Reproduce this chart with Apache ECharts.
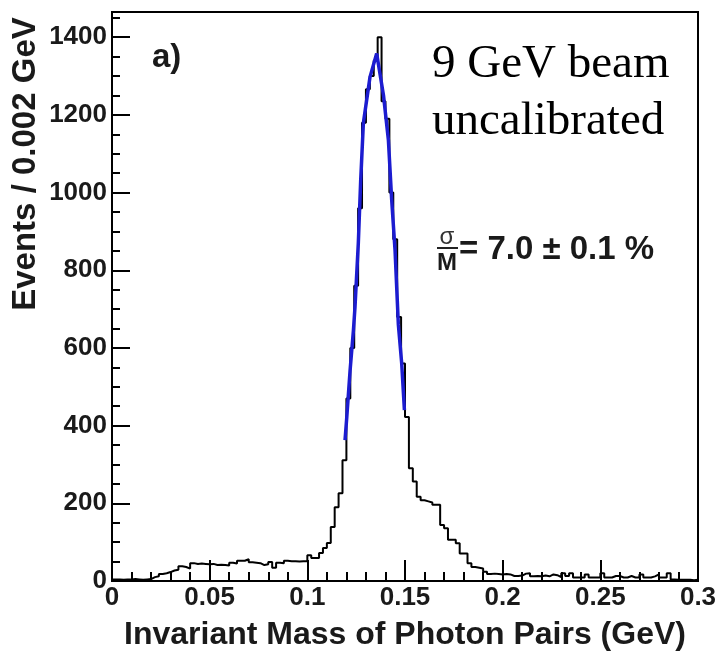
<!DOCTYPE html>
<html>
<head>
<meta charset="utf-8">
<script src="https://cdn.jsdelivr.net/npm/echarts@6/dist/echarts.min.js"></script>
<style>
html,body{margin:0;padding:0;background:#fff;}
#chart{width:716px;height:651px;}
</style>
</head>
<body>
<div id="chart"></div>
<script>
// Histogram: bin width 0.002 GeV, 150 bins from 0 to 0.3 GeV
const binWidth = 0.002;
const counts = [
  4,4,3,4,4,5,4,3,4,5,
  10,12,18,20,23,27,29,38,36,32,
  46,44,45,44,43,44,41,42,41,40,
  47,45,52,52,56,48,47,46,41,43,
  49,34,47,46,52,51,51,50,51,51,
  66,59,59,72,85,98,139,190,226,311,
  470,600,760,960,1180,1266,1300,1340,1400,1235,
  1190,1000,880,680,560,422,290,256,217,208,
  205,202,196,196,144,136,106,106,97,71,
  71,46,36,34,32,24,18,19,18,17,
  18,17,13,13,14,19,20,12,13,12,
  14,12,17,15,10,20,13,20,9,9,
  9,17,9,9,9,20,9,9,13,13,
  9,9,13,9,9,17,9,9,12,17,
  9,9,20,4,3,3,3,3,2,3
];
// Gaussian fit curve
const fitMass = [0.1193,0.1202,0.1219,0.1236,0.1244,0.1261,0.1273,0.1287,0.1321,0.1355,0.1390,0.1415,0.1432,0.1449,0.1466,0.1483,0.1497];
const fitValue = [363,422,543,646,705,870,1030,1180,1298,1358,1250,1135,980,852,660,561,440];
const xTicks = [0,0.05,0.1,0.15,0.2,0.25,0.3];
const yTicks = [0,200,400,600,800,1000,1200,1400];

const histData = counts.map((c,i)=>[+(i*binWidth).toFixed(3), c]);
histData.push([+(counts.length*binWidth).toFixed(3), counts[counts.length-1]]);
const fitData = fitMass.map((m,i)=>[m, fitValue[i]]);

const sans = "'Liberation Sans',Arial,Helvetica,sans-serif";
const chart = echarts.init(document.getElementById('chart'), null, {renderer:'canvas'});
chart.setOption({
  animation:false,
  backgroundColor:'#fff',
  grid:{left:112,right:18,top:12,bottom:70,outerBoundsMode:'none',containLabel:false,
    show:true,borderColor:'#000',borderWidth:2,backgroundColor:'transparent'},
  xAxis:{
    type:'value',min:0,max:0.3,interval:0.05,
    name:'Invariant Mass of Photon Pairs (GeV)',nameLocation:'middle',nameGap:38,
    nameTextStyle:{fontFamily:sans,fontWeight:'bold',fontSize:32,color:'#1a1a1a'},
    axisLine:{show:true,lineStyle:{color:'#000',width:2}},
    axisTick:{show:true,inside:true,length:21,lineStyle:{color:'#000',width:2}},
    minorTick:{show:true,splitNumber:5,length:9,lineStyle:{color:'#000',width:2}},
    splitLine:{show:false},
    axisLabel:{fontFamily:sans,fontWeight:'bold',fontSize:26,color:'#1a1a1a',margin:4,
      formatter:v=>{const t=xTicks.find(k=>Math.abs(k-v)<1e-9);return t===undefined?'':String(t);}}
  },
  yAxis:{
    type:'value',min:0,max:1465,interval:200,
    axisLine:{show:true,lineStyle:{color:'#000',width:2}},
    axisTick:{show:true,inside:true,length:18,lineStyle:{color:'#000',width:2}},
    minorTick:{show:true,splitNumber:4,length:8,lineStyle:{color:'#000',width:2}},
    splitLine:{show:false},
    axisLabel:{fontFamily:sans,fontWeight:'bold',fontSize:26,color:'#1a1a1a',margin:5,showMaxLabel:false,
      formatter:v=>yTicks.indexOf(v)>=0?String(v):''}
  },
  series:[
    {type:'line',data:histData,step:'end',showSymbol:false,
      lineStyle:{color:'#000',width:2},z:2},
    {type:'line',data:fitData,showSymbol:false,smooth:false,
      lineStyle:{color:'#1c1cd0',width:3.5},z:3}
  ],
  graphic:[
    {type:'text',x:26,y:164,rotation:Math.PI/2,
      style:{text:'Events / 0.002 GeV',font:"bold 33px "+sans,fill:'#1a1a1a',align:'center',verticalAlign:'middle'}},
    {type:'text',x:152,y:58,style:{text:'a)',font:"bold 33px "+sans,fill:'#1a1a1a',align:'left',verticalAlign:'middle'}},
    {type:'text',x:432,y:65,style:{text:'9 GeV beam',font:"47px 'Liberation Serif','Times New Roman',serif",fill:'#000',align:'left',verticalAlign:'middle'}},
    {type:'text',x:432,y:122,style:{text:'uncalibrated',font:"47px 'Liberation Serif','Times New Roman',serif",fill:'#000',align:'left',verticalAlign:'middle'}},
    {type:'text',x:447,y:237,style:{text:'σ',font:"24px 'Liberation Sans',Arial,sans-serif",fill:'#333',align:'center',verticalAlign:'middle'}},
    {type:'line',shape:{x1:437,y1:248,x2:458,y2:248},style:{stroke:'#222',lineWidth:2}},
    {type:'text',x:447,y:263,style:{text:'M',font:"bold 24px "+sans,fill:'#1a1a1a',align:'center',verticalAlign:'middle'}},
    {type:'text',x:459,y:250,style:{text:'= 7.0 ± 0.1 %',font:"bold 33px "+sans,fill:'#1a1a1a',align:'left',verticalAlign:'middle'}}
  ]
});
</script>
</body>
</html>
